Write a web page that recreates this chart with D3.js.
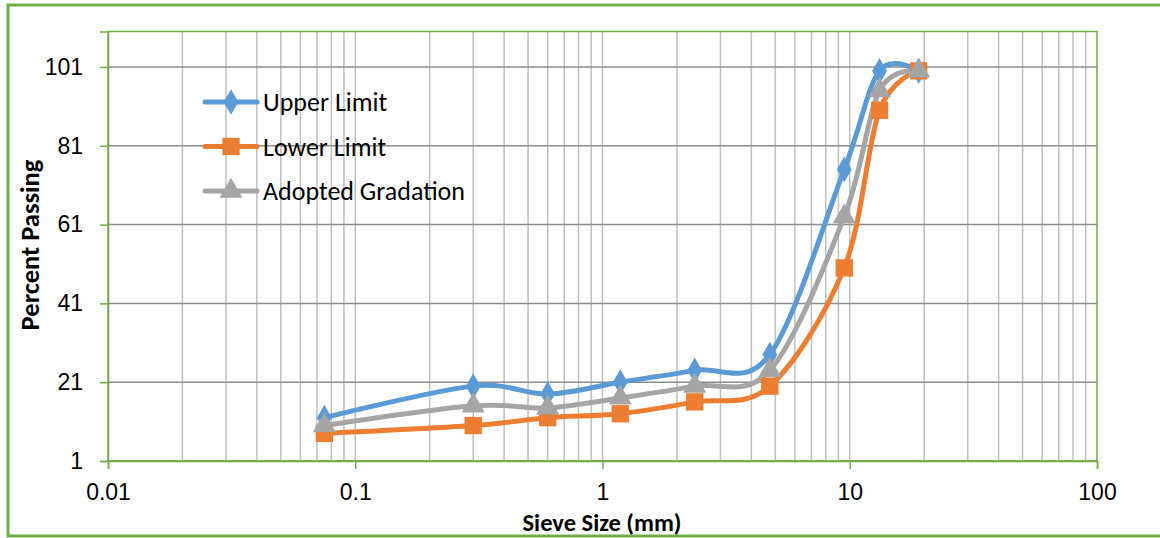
<!DOCTYPE html>
<html><head><meta charset="utf-8">
<script src="https://cdn.jsdelivr.net/npm/d3@7"></script>
<style>
html,body{margin:0;padding:0;background:#fff;}
svg{display:block;font-family:Carlito, Calibri, "Open Sans", "Noto Sans", sans-serif;}
</style></head>
<body>
<svg id="chart" width="1160" height="538"></svg>
<script>
const sieveSizes = [0.075, 0.3, 0.6, 1.18, 2.36, 4.75, 9.5, 13.2, 19];
const upperLimit = [12, 20, 18, 21, 24, 28, 75, 100, 100];
const lowerLimit = [8, 10, 12, 13, 16, 20, 50, 90, 100];
const adoptedGradation = [10, 15, 14.5, 17, 20, 24, 63, 95, 100];
const seriesNames = ["Upper Limit", "Lower Limit", "Adopted Gradation"];
const seriesColors = ["#5b9bd5", "#ed7d31", "#a5a5a5"];
const seriesMarkers = ["diamond", "square", "triangle"];
const yTicks = [1, 21, 41, 61, 81, 101];
const xTicks = [0.01, 0.1, 1, 10, 100];
const xTickLabels = ["0.01", "0.1", "1", "10", "100"];

const svg = d3.select("#chart");
const m = {left: 108, top: 31.5, right: 1097, bottom: 461};
const green = "#70ad47";

// outer frame
svg.append("rect").attr("x", 8).attr("y", 5).attr("width", 1200).attr("height", 531)
  .attr("fill", "none").attr("stroke", green).attr("stroke-width", 3);

const x = d3.scaleLog().domain([0.01, 100]).range([m.left, m.right]);
const y = d3.scaleLinear().domain([1, 110]).range([m.bottom, m.top]);

// minor vertical gridlines
const minor = [];
for (let e = -2; e < 2; e++) for (let k = 1; k <= 9; k++) minor.push(k * Math.pow(10, e));
svg.append("g").selectAll("line").data(minor.filter(v => v > 0.01)).join("line")
  .attr("x1", d => x(d)).attr("x2", d => x(d)).attr("y1", m.top).attr("y2", m.bottom)
  .attr("stroke", "#bfbfbf").attr("stroke-width", 1.5);

// horizontal major gridlines
svg.append("g").selectAll("line").data(yTicks).join("line")
  .attr("x1", m.left).attr("x2", m.right).attr("y1", d => y(d)).attr("y2", d => y(d))
  .attr("stroke", "#8c8c8c").attr("stroke-width", 1.5);

// plot border
svg.append("rect").attr("x", m.left).attr("y", m.top).attr("width", m.right - m.left).attr("height", m.bottom - m.top)
  .attr("fill", "none").attr("stroke", green).attr("stroke-width", 1.5);

// axes
const yAxis = d3.axisLeft(y).tickValues(yTicks).tickSize(8).tickPadding(17).tickFormat(d3.format("d"));
const gy = svg.append("g").attr("transform", `translate(${m.left},0)`).call(yAxis);
gy.select(".domain").attr("stroke", green).attr("stroke-width", 1.5);
gy.selectAll(".tick line").attr("stroke", green).attr("stroke-width", 1.5);
gy.selectAll("text").attr("font-size", 23).attr("fill", "#000").attr("font-family", null);

const xAxis = d3.axisBottom(x).tickValues(xTicks).tickSize(8).tickPadding(15).tickFormat((d, i) => xTickLabels[i]);
const gx = svg.append("g").attr("transform", `translate(0,${m.bottom})`).call(xAxis);
gx.select(".domain").attr("stroke", green).attr("stroke-width", 1.5);
gx.selectAll(".tick line").attr("stroke", green).attr("stroke-width", 1.5);
gx.selectAll("text").attr("font-size", 23).attr("fill", "#000").attr("font-family", null);

// axis titles
svg.append("text").attr("x", 602).attr("y", 531).attr("text-anchor", "middle")
  .attr("font-size", 24.5).attr("font-weight", "bold").text("Sieve Size (mm)");
svg.append("text").attr("transform", `translate(39,245) rotate(-90)`).attr("text-anchor", "middle")
  .attr("font-size", 26.5).attr("font-weight", "bold").text("Percent Passing");

// series
const allSeries = [upperLimit, lowerLimit, adoptedGradation];
const line = d3.line().x(d => x(d[0])).y(d => y(d[1])).curve(d3.curveCatmullRom.alpha(0));
const symType = {diamond: d3.symbolDiamond, square: d3.symbolSquare, triangle: d3.symbolTriangle};
const symSize = {diamond: 190, square: 300, triangle: 230};

function drawMarker(g, type, cx, cy, color) {
  g.append("path").attr("d", d3.symbol().type(symType[type]).size(symSize[type])())
    .attr("transform", `translate(${cx},${cy})`).attr("fill", color);
}

allSeries.forEach((vals, i) => {
  const pts = sieveSizes.map((s, j) => [s, vals[j]]);
  svg.append("path").datum(pts).attr("d", line).attr("fill", "none")
    .attr("stroke", seriesColors[i]).attr("stroke-width", 5).attr("stroke-linejoin", "round").attr("stroke-linecap", "round");
});
allSeries.forEach((vals, i) => {
  const g = svg.append("g");
  sieveSizes.forEach((s, j) => drawMarker(g, seriesMarkers[i], x(s), y(vals[j]), seriesColors[i]));
});

// legend
const leg = svg.append("g");
seriesNames.forEach((name, i) => {
  const ly = 102 + i * 44.5;
  leg.append("line").attr("x1", 205).attr("x2", 257).attr("y1", ly).attr("y2", ly)
    .attr("stroke", seriesColors[i]).attr("stroke-width", 5).attr("stroke-linecap", "round");
  drawMarker(leg, seriesMarkers[i], 231, ly, seriesColors[i]);
  leg.append("text").attr("x", 263).attr("y", ly).attr("dy", "0.35em").attr("font-size", 26).text(name);
});
</script>
</body></html>
